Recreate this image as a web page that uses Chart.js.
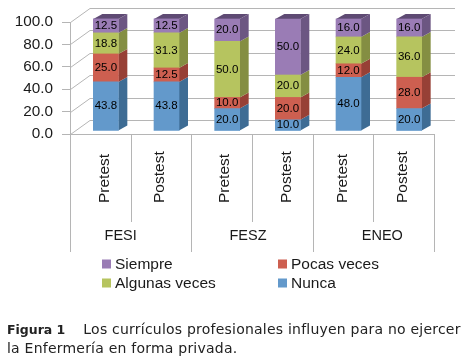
<!DOCTYPE html>
<html lang="es">
<head>
<meta charset="utf-8">
<title>Figura 1</title>
<script src="https://cdn.jsdelivr.net/npm/chart.js@4"></script>
<style>
    html, body { margin: 0; padding: 0; background: #fff; }
    #wrap { position: relative; width: 474px; height: 363px; overflow: hidden; }
    #grafico { position: absolute; left: 0; top: 0; }
    #pie {
        position: absolute; left: 7px; top: 320px; width: 467px; margin: 0;
        font: 14px/19px "DejaVu Sans", sans-serif; letter-spacing: 0.22px; color: #222; white-space: nowrap;
    }
    #pie b { font-size: 12.5px; letter-spacing: 0; margin-right: 18px; }
</style>
</head>
<body>
<div id="wrap">
    <canvas id="grafico" width="474" height="363"></canvas>
    <p id="pie"><b>Figura 1</b>Los currículos profesionales influyen para no ejercer<br>la Enfermería en forma privada.</p>
</div>
<script>
const categorias = ['Pretest', 'Postest', 'Pretest', 'Postest', 'Pretest', 'Postest'];
const grupos = ['FESI', 'FESZ', 'ENEO'];
const ticksY = [0, 20, 40, 60, 80, 100];
const nunca = [43.8, 43.8, 20.0, 10.0, 48.0, 20.0];
const pocasVeces = [25.0, 12.5, 10.0, 20.0, 12.0, 28.0];
const algunasVeces = [18.8, 31.3, 50.0, 20.0, 24.0, 36.0];
const siempre = [12.5, 12.5, 20.0, 50.0, 16.0, 16.0];

const GRIS = '#b5b5b5';
const TEXTO = '#1a1a1a';
const FUENTE = '"Liberation Sans", Arial, sans-serif';

// colores: frente, lateral, tapa
const colores = {
    nunca: ['#6399cb', '#3e6c94'],
    pocas: ['#cd5f50', '#974036'],
    algunas: ['#b6c45f', '#848e42'],
    siempre: ['#9a7cb5', '#6c5682', '#5e4a73']
};

const FONDO = { dx: 20, dy: -14 };    // desplazamiento de la pared del fondo
const PROF = { dx: 9, dy: -5 };       // profundidad de cada barra
const BARRA = { dx: 5.5, dy: -3 };    // las barras van algo adentro del piso

// paredes del grafico 3D
const paredes = {
    id: 'paredes',
    beforeDatasetsDraw(chart) {
        const { ctx, scales: { x, y } } = chart;
        ctx.save();
        ctx.strokeStyle = GRIS;
        ctx.lineWidth = 1;
        ticksY.forEach(v => {
            const py = Math.round(y.getPixelForValue(v)) + 0.5;
            ctx.beginPath();
            ctx.moveTo(x.left + 0.5, py);
            ctx.lineTo(x.left + FONDO.dx, py + FONDO.dy);
            ctx.lineTo(x.right + FONDO.dx + 1, py + FONDO.dy);
            ctx.stroke();
        });
        ctx.restore();
    }
};

// caras laterales, tapa y etiquetas de cada barra
const barras3d = {
    id: 'barras3d',
    beforeDatasetsDraw(chart) {
        const { ctx } = chart;
        ctx.save();
        ctx.translate(BARRA.dx, BARRA.dy);
        const total = chart.data.datasets.length;
        chart.data.datasets.forEach((ds, i) => {
            chart.getDatasetMeta(i).data.forEach(bar => {
                const der = bar.x + bar.width / 2;
                const izq = bar.x - bar.width / 2;
                ctx.fillStyle = ds.ladoColor;
                ctx.beginPath();
                ctx.moveTo(der, bar.y);
                ctx.lineTo(der + PROF.dx, bar.y + PROF.dy);
                ctx.lineTo(der + PROF.dx, bar.base + PROF.dy);
                ctx.lineTo(der, bar.base);
                ctx.closePath();
                ctx.fill();
                if (i === total - 1) {
                    ctx.fillStyle = ds.tapaColor;
                    ctx.beginPath();
                    ctx.moveTo(izq, bar.y);
                    ctx.lineTo(izq + PROF.dx, bar.y + PROF.dy);
                    ctx.lineTo(der + PROF.dx, bar.y + PROF.dy);
                    ctx.lineTo(der, bar.y);
                    ctx.closePath();
                    ctx.fill();
                }
            });
        });
    },
    afterDatasetsDraw(chart) {
        const { ctx } = chart;
        ctx.font = '11.5px ' + FUENTE;
        ctx.fillStyle = '#000';
        ctx.textAlign = 'center';
        ctx.textBaseline = 'middle';
        chart.data.datasets.forEach((ds, i) => {
            chart.getDatasetMeta(i).data.forEach((bar, j) => {
                ctx.fillText(ds.data[j].toFixed(1), bar.x, (bar.y + bar.base) / 2);
            });
        });
        ctx.restore();
    }
};

// etiquetas giradas, separadores del eje X, nombres de grupo y leyenda
const ejeGrupos = {
    id: 'ejeGrupos',
    afterDraw(chart) {
        const { ctx, scales: { x } } = chart;
        const banda = (x.right - x.left) / categorias.length;
        const ajusteTick = [4, -1, 3, 4, 0, -1];
        const ajusteGrupo = [-10, -4, 9];
        ctx.save();
        ctx.strokeStyle = GRIS;
        for (let i = 0; i <= categorias.length; i++) {
            const px = Math.round(x.left + banda * i) + 0.5;
            ctx.beginPath();
            ctx.moveTo(px, x.top);
            ctx.lineTo(px, x.top + (i % 2 === 0 ? 118 : 88));
            ctx.stroke();
        }
        ctx.font = '15.5px ' + FUENTE;
        ctx.fillStyle = TEXTO;
        ctx.textAlign = 'left';
        ctx.textBaseline = 'middle';
        categorias.forEach((c, i) => {
            ctx.save();
            ctx.translate(x.getPixelForTick(i) + ajusteTick[i], x.top + 69);
            ctx.rotate(-Math.PI / 2);
            ctx.fillText(c, 0, 0);
            ctx.restore();
        });
        ctx.font = '14.5px ' + FUENTE;
        ctx.textAlign = 'center';
        grupos.forEach((g, i) => {
            ctx.fillText(g, x.left + banda * (2 * i + 1) + ajusteGrupo[i], x.top + 102);
        });

        // leyenda en dos columnas: Siempre, Pocas veces / Algunas veces, Nunca
        const orden = [3, 1, 2, 0];
        ctx.font = '15.5px ' + FUENTE;
        ctx.textAlign = 'left';
        orden.forEach((d, k) => {
            const ds = chart.data.datasets[d];
            const lx = k % 2 === 0 ? 102 : 278;
            const ly = k < 2 ? 264 : 283;
            ctx.fillStyle = ds.backgroundColor;
            ctx.fillRect(lx, ly - 4.5, 9, 9);
            ctx.fillStyle = TEXTO;
            ctx.fillText(ds.label, lx + 13, ly + 1);
        });
        ctx.restore();
    }
};

new Chart(document.getElementById('grafico'), {
    type: 'bar',
    data: {
        labels: categorias,
        datasets: [
            { label: 'Nunca', data: nunca, backgroundColor: colores.nunca[0], ladoColor: colores.nunca[1] },
            { label: 'Pocas veces', data: pocasVeces, backgroundColor: colores.pocas[0], ladoColor: colores.pocas[1] },
            { label: 'Algunas veces', data: algunasVeces, backgroundColor: colores.algunas[0], ladoColor: colores.algunas[1] },
            { label: 'Siempre', data: siempre, backgroundColor: colores.siempre[0], ladoColor: colores.siempre[1], tapaColor: colores.siempre[2] }
        ]
    },
    plugins: [paredes, barras3d, ejeGrupos],
    options: {
        responsive: false,
        animation: false,
        layout: { padding: { top: 22, right: 40, left: 0, bottom: 0 } },
        plugins: { legend: { display: false }, tooltip: { enabled: false } },
        datasets: { bar: { barThickness: 25, clip: false } },
        scales: {
            x: {
                stacked: true,
                afterFit(scale) { scale.height = 363 - 134; },
                grid: { display: false },
                border: { display: true, color: GRIS },
                ticks: { display: false }
            },
            y: {
                stacked: true,
                min: 0,
                max: 100,
                afterFit(scale) { scale.width = 70; },
                afterBuildTicks(scale) { scale.ticks = ticksY.map(v => ({ value: v })); },
                grid: { drawOnChartArea: false, color: GRIS, tickLength: 8 },
                border: { display: true, color: GRIS },
                ticks: {
                    padding: 9,
                    font: { family: FUENTE, size: 15.3 }, color: TEXTO,
                    callback: v => v.toFixed(1)
                }
            }
        }
    }
});
</script>
</body>
</html>
